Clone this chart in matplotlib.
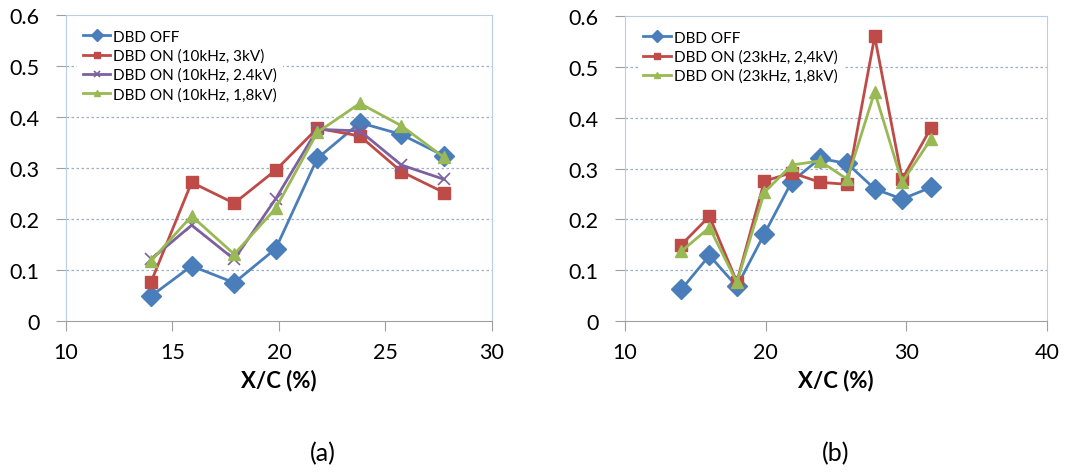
import matplotlib
matplotlib.use('Agg')
import matplotlib.pyplot as plt

plt.rcParams['font.family'] = ['Lato', 'DejaVu Sans']

# panel (a): 10 kHz runs
xa = [14, 15.9, 17.9, 19.85, 21.8, 23.8, 25.75, 27.75]
a_off = [0.049, 0.108, 0.075, 0.142, 0.319, 0.389, 0.366, 0.324]
a_3kv = [0.077, 0.272, 0.231, 0.296, 0.378, 0.363, 0.293, 0.252]
a_24kv = [0.121, 0.188, 0.121, 0.240, 0.376, 0.373, 0.306, 0.278]
a_18kv = [0.118, 0.206, 0.131, 0.221, 0.370, 0.427, 0.383, 0.321]

# panel (b): 23 kHz runs
xb = [14, 16, 17.95, 19.9, 21.85, 23.85, 25.8, 27.75, 29.7, 31.75]
b_off = [0.062, 0.129, 0.068, 0.171, 0.274, 0.320, 0.310, 0.260, 0.240, 0.263]
b_24kv = [0.150, 0.206, 0.077, 0.275, 0.292, 0.273, 0.269, 0.560, 0.279, 0.380]
b_18kv = [0.137, 0.184, 0.076, 0.253, 0.307, 0.315, 0.279, 0.451, 0.273, 0.358]

BLUE = '#4a7ebb'
RED = '#be4b48'
PURPLE = '#7d60a0'
GREEN = '#98b954'

fig = plt.figure(figsize=(10.69, 4.77), dpi=100)
ax1 = fig.add_axes([0.0617, 0.325, 0.3985, 0.641])
ax2 = fig.add_axes([0.5847, 0.325, 0.3947, 0.639])


def style_axes(ax, xlim, xticks):
    ax.set_xlim(*xlim)
    ax.set_ylim(0, 0.6)
    ax.set_xticks(xticks)
    ax.set_yticks([0, 0.1, 0.2, 0.3, 0.4, 0.5, 0.6])
    ax.set_yticklabels(['0', '0.1', '0.2', '0.3', '0.4', '0.5', '0.6'])
    for y in [0.1, 0.2, 0.3, 0.4, 0.5]:
        ax.axhline(y, color='#9bb0c8', lw=0.9, ls=(0, (2, 2)), zorder=0)
    for s in ['top', 'right', 'left']:
        ax.spines[s].set_color('#b9cde5')
    ax.spines['bottom'].set_color('#a0a0a0')
    ax.tick_params(direction='out', length=7, color='#a0a0a0', labelsize=15.5)
    ax.tick_params(axis='x', pad=8)
    ax.tick_params(axis='y', pad=12)
    ax.set_xlabel('X/C (%)', fontsize=16, fontweight='bold', labelpad=5)


ax1.plot(xa, a_off, color=BLUE, marker='D', ms=10, lw=2, label='DBD OFF', zorder=3)
ax1.plot(xa, a_3kv, color=RED, marker='s', ms=8, lw=2, label='DBD ON (10kHz, 3kV)', zorder=3)
ax1.plot(xa, a_24kv, color=PURPLE, marker='x', ms=8, mew=1.2, lw=2,
         label='DBD ON (10kHz, 2.4kV)', zorder=3)
ax1.plot(xa, a_18kv, color=GREEN, marker='^', ms=8, lw=2, label='DBD ON (10kHz, 1,8kV)', zorder=3)
style_axes(ax1, (10, 30), [10, 15, 20, 25, 30])

ax2.plot(xb, b_off, color=BLUE, marker='D', ms=10, lw=2, label='DBD OFF', zorder=3)
ax2.plot(xb, b_24kv, color=RED, marker='s', ms=8, lw=2, label='DBD ON (23kHz, 2,4kV)', zorder=3)
ax2.plot(xb, b_18kv, color=GREEN, marker='^', ms=8, lw=2, label='DBD ON (23kHz, 1,8kV)', zorder=3)
style_axes(ax2, (10, 40), [10, 20, 30, 40])

for ax, x0 in ((ax1, 0.009), (ax2, 0.012)):
    leg = ax.legend(loc='upper left', bbox_to_anchor=(x0, 0.995), fontsize=11,
                    frameon=True, framealpha=1, edgecolor='none', fancybox=False,
                    markerscale=0.6, handlelength=1.8, handletextpad=0.2,
                    labelspacing=0.32, borderpad=0.35)
    leg.set_zorder(5)

fig.text(0.302, 0.033, '(a)', fontsize=18, ha='center')
fig.text(0.782, 0.033, '(b)', fontsize=18, ha='center')

plt.savefig('out.png', dpi=100)
